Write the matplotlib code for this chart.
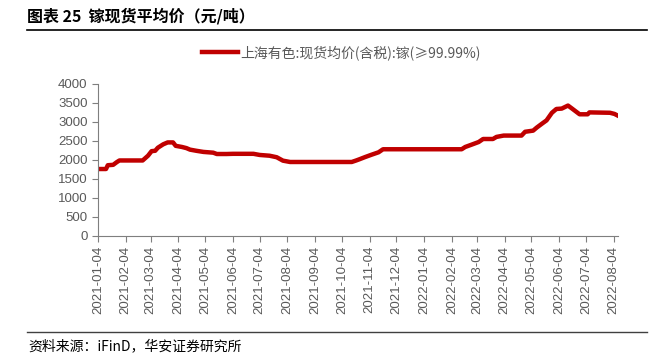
import numpy as np
import pandas as pd
import matplotlib
matplotlib.use("Agg")
import matplotlib.pyplot as plt
import matplotlib.dates as mdates
from matplotlib.lines import Line2D

plt.rcParams['font.family'] = ['Noto Sans CJK SC', 'DejaVu Sans']

# ==============================================================================
# DATA: gallium spot average price, CNY/t
# ==============================================================================
dates = [
    "2021-01-04", "2021-01-13", "2021-01-15", "2021-01-21", "2021-01-25", "2021-01-28",
    "2021-02-23", "2021-03-01", "2021-03-05", "2021-03-09", "2021-03-12", "2021-03-18",
    "2021-03-23", "2021-03-29", "2021-04-01", "2021-04-08", "2021-04-13", "2021-04-17",
    "2021-04-24", "2021-05-02", "2021-05-13", "2021-05-17", "2021-05-28", "2021-06-04",
    "2021-06-27", "2021-07-04", "2021-07-15", "2021-07-23", "2021-07-30", "2021-08-07",
    "2021-10-15", "2021-10-20", "2021-10-24", "2021-10-30", "2021-11-06", "2021-11-14",
    "2021-11-19", "2022-02-15", "2022-02-19", "2022-02-26", "2022-03-06", "2022-03-11",
    "2022-03-22", "2022-03-26", "2022-04-03", "2022-04-23", "2022-04-27", "2022-05-06",
    "2022-05-10", "2022-05-16", "2022-05-21", "2022-05-27", "2022-06-01", "2022-06-07",
    "2022-06-14", "2022-06-18", "2022-06-27", "2022-07-06", "2022-07-08", "2022-07-31",
    "2022-08-05", "2022-08-10",
]
prices = [
    1750, 1750, 1850, 1860, 1930, 1975,
    1975, 2100, 2220, 2230, 2310, 2400,
    2450, 2450, 2360, 2330, 2300, 2260,
    2230, 2200, 2180, 2145, 2145, 2150,
    2150, 2120, 2100, 2060, 1970, 1935,
    1935, 1975, 2010, 2065, 2125, 2190,
    2270, 2270, 2330, 2390, 2460, 2540,
    2540, 2595, 2630, 2630, 2730, 2760,
    2840, 2945, 3030, 3230, 3330, 3340,
    3420, 3350, 3190, 3190, 3240, 3230,
    3200, 3140,
]
series_label = "上海有色:现货均价(含税):镓(≥99.99%)"
title = "图表 25  镓现货平均价（元/吨）"
source = "资料来源：iFinD，华安证券研究所"

x = pd.to_datetime(dates)

# ==============================================================================
# PLOT
# ==============================================================================
fig = plt.figure(figsize=(6.54, 3.62), dpi=100)
ax = fig.add_axes([0.1498, 0.3494, 0.7952, 0.4199])

red = "#C00000"
grey = "#7F7F7F"
text_grey = "#595959"

ax.plot(x, prices, color=red, lw=3.2, solid_capstyle='round', solid_joinstyle='round')

ax.set_ylim(0, 4000)
ax.set_yticks(np.arange(0, 4001, 500))
ax.set_xlim(pd.Timestamp("2021-01-04"), pd.Timestamp("2022-08-09"))
ax.xaxis.set_major_locator(mdates.MonthLocator(bymonthday=4))
ax.xaxis.set_major_formatter(mdates.DateFormatter('%Y-%m-%d'))

for s in ['top', 'right']:
    ax.spines[s].set_visible(False)
for s in ['left', 'bottom']:
    ax.spines[s].set_color(grey)
    ax.spines[s].set_linewidth(0.8)

ax.tick_params(axis='both', colors=grey, length=4, width=0.8, direction='out')
for lbl in ax.get_yticklabels():
    lbl.set_fontfamily('Liberation Sans')
    lbl.set_fontsize(9.5)
    lbl.set_color(text_grey)
for lbl in ax.get_xticklabels():
    lbl.set_fontfamily('Liberation Sans')
    lbl.set_fontsize(9.5)
    lbl.set_color(text_grey)
    lbl.set_rotation(90)

# legend on top
handle = Line2D([], [], color=red, lw=3.2)
leg = fig.legend([handle], [series_label], loc='center', bbox_to_anchor=(0.522, 0.854),
                 frameon=False, handlelength=2.6, handletextpad=0.2,
                 prop={'family': ['Noto Sans CJK SC', 'DejaVu Sans'], 'size': 10})
for t in leg.get_texts():
    t.set_color(text_grey)

# title, rules, source note
fig.text(27 / 654, 1 - 16 / 362, title, fontsize=11.5, fontweight='bold',
         va='center', ha='left', color='black')
fig.add_artist(Line2D([27 / 654, 647 / 654], [1 - 29.5 / 362] * 2,
                      color='black', lw=1.2, transform=fig.transFigure))
fig.add_artist(Line2D([27 / 654, 647 / 654], [1 - 331.5 / 362] * 2,
                      color='#404040', lw=1.0, transform=fig.transFigure))
fig.text(28 / 654, 1 - 346 / 362, source, fontsize=10, va='center', ha='left', color='black')

fig.savefig("out.png", dpi=100)
